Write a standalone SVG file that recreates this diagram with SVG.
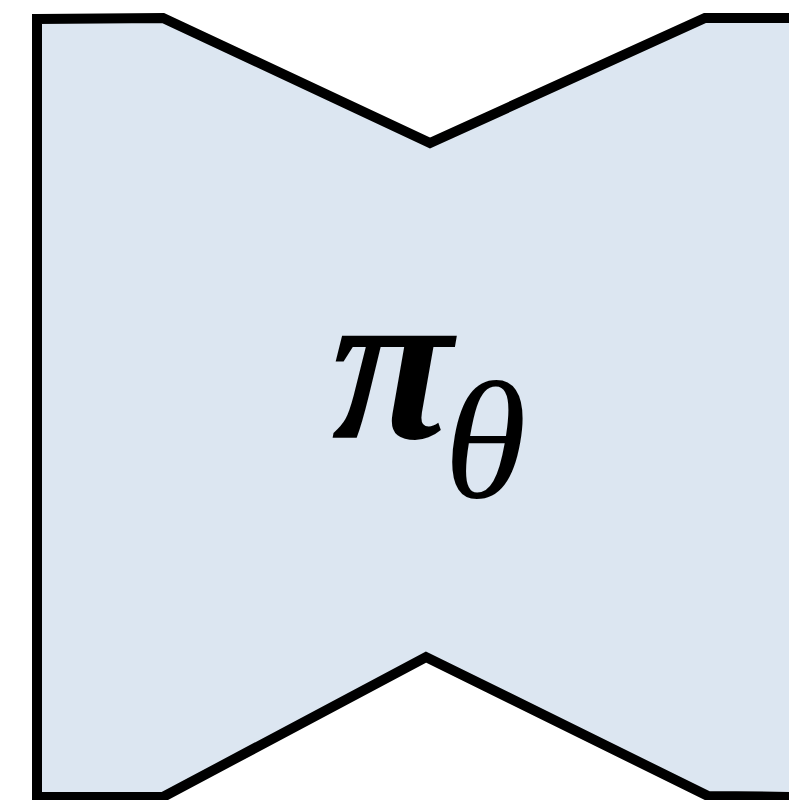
<svg xmlns="http://www.w3.org/2000/svg" width="789" height="800" viewBox="0 0 789 800">
<style>
.shape{fill:#dce6f1;stroke:#000;stroke-width:10;stroke-linejoin:miter}
.lbl{font-family:"Liberation Serif","Times New Roman",serif;fill:#000}
</style>
<rect width="789" height="800" fill="#fff"/>
<g id="policy">
<path class="shape" d="M37,19 L163,18 L430,143 L705,18 L800,18 L800,797 L708,796 L426,657 L163,797 L37,797 Z"/>
<text class="lbl" x="331" y="438" font-size="222" font-weight="bold" font-style="italic">π</text>
<text class="lbl" x="444" y="497" font-size="168" font-style="italic">θ</text>
</g>
</svg>
